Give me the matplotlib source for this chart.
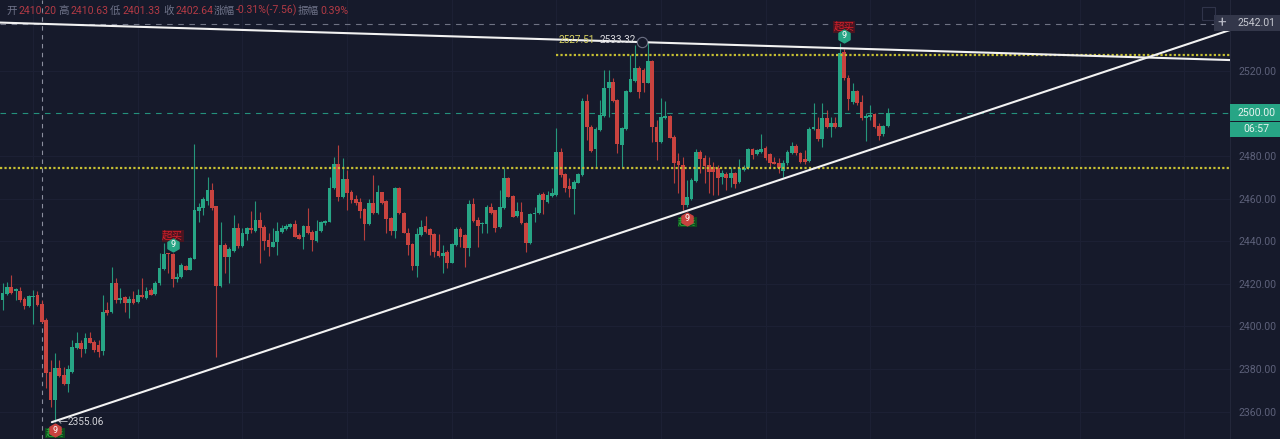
import numpy as np
import matplotlib
matplotlib.use("Agg")
import matplotlib.pyplot as plt
from matplotlib.patches import Rectangle

opens = [2412.4,2415.2,2418.5,2416.6,2416.6,2412.8,2409.5,2413.8,2414.7,2410.5,
2403.0,2378.6,2365.4,2380.4,2377.2,2372.9,2378.6,2389.8,2392.2,2389.3,
2394.5,2392.6,2391.2,2388.4,2407.7,2406.7,2420.3,2412.4,2413.8,2410.9,
2412.8,2411.4,2414.7,2413.3,2417.0,2415.2,2420.3,2426.9,2434.4,2433.9,
2422.2,2423.1,2428.3,2426.4,2431.6,2454.1,2455.5,2458.8,2464.0,2456.5,
2418.9,2438.2,2432.5,2435.4,2446.2,2437.7,2443.3,2446.2,2444.8,2449.9,
2446.6,2440.5,2437.2,2439.6,2444.3,2445.7,2446.6,2448.0,2442.9,2441.9,
2447.1,2444.3,2440.0,2444.8,2448.5,2449.0,2464.9,2476.2,2460.7,2469.2,
2463.1,2459.8,2458.4,2455.1,2448.0,2457.9,2453.2,2463.1,2458.8,2450.9,
2444.8,2464.9,2453.2,2443.8,2438.6,2428.3,2442.9,2447.1,2445.7,2443.3,
2435.4,2433.0,2434.9,2429.7,2438.2,2445.7,2442.9,2436.8,2457.4,2449.9,
2448.0,2448.0,2456.0,2454.6,2446.6,2455.5,2469.6,2461.2,2451.8,2453.7,
2448.5,2439.1,2452.7,2453.2,2462.1,2458.4,2461.2,2461.6,2481.8,2471.5,
2465.9,2464.5,2467.3,2471.0,2505.8,2493.6,2483.2,2492.2,2498.7,2511.9,
2514.7,2506.2,2485.1,2492.6,2510.0,2515.2,2521.3,2520.3,2514.2,2524.6,
2493.6,2486.5,2497.8,2498.7,2488.9,2477.6,2475.7,2456.9,2459.8,2468.2,
2481.8,2479.0,2475.7,2474.8,2474.3,2470.1,2471.5,2469.6,2472.0,2467.8,
2473.4,2474.3,2483.2,2480.9,2481.8,2483.7,2480.9,2477.1,2476.7,2472.9,
2476.7,2481.4,2484.7,2481.4,2478.5,2477.6,2492.6,2492.6,2487.9,2497.8,
2493.6,2495.5,2493.6,2528.8,2516.6,2505.3,2510.5,2505.3,2497.8,2498.3,
2499.7,2494.0,2490.3,2494.0]
highs = [2420.3,2420.8,2424.1,2418.0,2418.5,2413.8,2414.7,2417.0,2416.6,2412.4,
2403.9,2384.2,2387.5,2384.2,2380.9,2381.8,2393.6,2397.3,2393.6,2396.9,
2397.3,2393.6,2393.6,2414.7,2411.4,2427.8,2422.7,2418.0,2414.2,2414.2,
2416.6,2417.5,2422.7,2418.5,2418.0,2421.3,2434.4,2439.1,2434.4,2434.4,
2425.0,2429.7,2428.8,2432.5,2485.6,2457.9,2460.7,2470.1,2467.3,2456.5,
2449.0,2439.1,2437.2,2452.3,2448.5,2446.2,2446.6,2454.1,2458.8,2453.7,
2447.6,2443.8,2446.2,2449.0,2447.6,2448.0,2448.5,2449.9,2443.8,2447.6,
2455.5,2445.2,2449.9,2449.4,2449.9,2470.1,2479.5,2485.1,2479.0,2473.4,
2464.0,2461.6,2460.2,2455.5,2459.8,2471.0,2466.3,2463.1,2459.3,2451.3,
2465.4,2465.4,2453.7,2446.2,2439.1,2446.2,2449.9,2451.8,2446.2,2443.8,
2443.3,2438.2,2435.8,2439.1,2446.6,2446.6,2443.3,2459.3,2460.2,2451.3,
2449.0,2456.9,2457.9,2454.6,2464.0,2474.3,2470.1,2461.6,2458.4,2458.4,
2449.0,2453.2,2456.0,2462.6,2463.1,2463.5,2464.9,2493.1,2483.7,2472.0,
2469.6,2468.7,2472.0,2507.2,2509.1,2494.5,2493.6,2506.2,2520.3,2520.3,
2516.6,2506.7,2493.6,2510.9,2527.4,2532.1,2522.2,2521.3,2533.3,2525.0,
2496.9,2507.2,2505.8,2499.2,2489.8,2481.4,2479.5,2468.7,2469.6,2483.2,
2482.8,2480.4,2479.5,2477.1,2475.7,2473.4,2472.4,2474.8,2472.4,2478.5,
2475.7,2483.7,2483.7,2483.2,2490.3,2484.7,2481.4,2479.5,2479.0,2478.1,
2482.8,2486.5,2485.6,2481.8,2482.8,2493.6,2504.8,2498.3,2504.8,2501.6,
2498.3,2498.3,2533.0,2530.2,2518.0,2514.2,2510.9,2508.6,2500.1,2503.9,
2500.1,2495.5,2494.5,2502.5]
lows = [2407.7,2414.7,2415.2,2412.4,2411.4,2408.1,2409.1,2401.1,2409.5,2401.6,
2371.0,2362.1,2355.06,2376.2,2372.4,2369.2,2378.1,2389.3,2385.6,2387.5,
2392.2,2387.9,2385.6,2386.5,2405.3,2406.2,2410.9,2410.9,2406.7,2403.9,
2410.5,2410.9,2413.3,2412.8,2414.7,2414.7,2419.4,2426.4,2425.0,2418.5,
2420.8,2422.7,2426.4,2426.4,2431.6,2449.0,2452.3,2456.9,2454.6,2385.6,
2418.5,2425.0,2420.3,2434.9,2436.8,2437.2,2440.5,2443.8,2444.3,2429.7,
2435.8,2433.0,2437.2,2433.5,2443.8,2445.2,2446.2,2441.9,2441.0,2436.3,
2443.3,2435.4,2439.6,2444.3,2447.6,2449.0,2464.5,2458.8,2460.2,2454.6,
2457.9,2456.9,2450.9,2440.5,2447.6,2452.7,2452.7,2457.4,2443.8,2442.9,
2441.5,2452.7,2443.8,2433.5,2426.4,2423.1,2442.4,2443.8,2433.5,2432.5,
2432.5,2425.0,2427.4,2429.7,2437.7,2437.2,2427.8,2433.0,2449.0,2437.2,
2443.8,2443.8,2452.7,2444.3,2446.2,2455.1,2460.7,2451.3,2451.3,2448.0,
2434.9,2438.6,2449.0,2452.7,2452.7,2457.9,2460.7,2461.2,2470.1,2463.1,
2460.7,2452.7,2467.3,2470.6,2487.5,2481.8,2474.3,2491.7,2498.3,2498.3,
2505.3,2481.4,2474.8,2492.2,2510.0,2514.7,2507.2,2510.0,2514.2,2486.5,
2478.1,2486.1,2497.3,2488.4,2467.3,2462.6,2454.6,2456.0,2459.3,2467.8,
2472.0,2467.3,2462.6,2461.6,2461.6,2466.8,2464.0,2465.4,2464.9,2467.3,
2472.9,2473.9,2478.5,2480.4,2481.4,2478.1,2474.8,2476.2,2472.0,2470.1,
2475.7,2480.9,2480.4,2476.7,2476.2,2477.1,2492.2,2487.0,2484.2,2493.1,
2488.9,2493.1,2493.6,2515.6,2501.6,2504.4,2503.9,2496.9,2487.0,2496.9,
2493.1,2487.5,2489.3,2493.6]
closes = [2415.6,2418.5,2415.6,2417.5,2412.4,2409.5,2414.2,2414.2,2410.0,2402.0,
2378.1,2365.4,2380.4,2376.7,2372.9,2380.0,2390.3,2392.2,2389.3,2394.5,
2392.2,2388.9,2387.9,2406.7,2406.2,2420.3,2412.4,2413.3,2410.9,2412.8,
2410.9,2414.7,2413.8,2416.6,2414.7,2420.3,2427.4,2433.9,2433.9,2422.2,
2423.1,2428.8,2426.4,2432.1,2454.6,2456.0,2459.8,2464.0,2455.5,2418.9,
2438.2,2432.5,2436.3,2446.2,2437.7,2443.8,2446.2,2445.2,2449.9,2446.2,
2440.0,2437.2,2439.6,2444.8,2446.2,2447.1,2448.0,2441.9,2441.0,2447.1,
2443.8,2440.5,2444.8,2449.0,2449.4,2464.9,2476.2,2460.7,2469.2,2462.6,
2459.3,2457.9,2454.1,2448.0,2457.9,2453.2,2463.1,2457.9,2450.4,2444.8,
2464.9,2453.2,2443.8,2438.2,2428.3,2443.3,2446.6,2444.3,2442.9,2434.9,
2433.0,2434.4,2429.7,2438.6,2445.7,2441.9,2436.8,2457.4,2449.4,2447.1,
2448.5,2456.0,2453.2,2446.2,2456.0,2469.6,2460.7,2451.3,2454.1,2448.5,
2439.1,2452.7,2453.2,2461.6,2459.3,2461.6,2462.6,2481.8,2471.0,2464.9,
2464.5,2467.8,2471.5,2505.8,2493.6,2482.3,2492.6,2499.2,2511.9,2514.7,
2505.8,2485.6,2493.1,2510.5,2516.1,2521.3,2510.0,2514.2,2524.6,2493.6,
2486.5,2498.3,2498.7,2488.4,2476.7,2475.7,2456.9,2460.7,2468.7,2481.8,
2478.5,2475.3,2472.4,2472.4,2469.6,2472.0,2469.6,2472.0,2466.8,2474.3,
2474.3,2483.2,2480.4,2482.8,2483.2,2479.0,2476.7,2476.2,2474.3,2476.7,
2481.8,2484.7,2481.4,2477.1,2477.1,2492.6,2493.6,2487.9,2497.8,2493.6,
2495.5,2493.6,2528.3,2516.6,2506.7,2510.5,2504.8,2497.8,2498.7,2499.2,
2493.6,2489.3,2494.0,2500.0]

price_ticks = [2360, 2380, 2400, 2420, 2440, 2460, 2480, 2520]
grid_candles = [7, 31, 55, 79, 103, 127, 151, 175, 199, 223, 247, 271]
support_price = 2474.1
resistance_price = 2527.51
last_price = 2500.00
cross_price = 2542.01
cross_candle = 9
falling_x = [-0.6, 281.5]
falling_p = [2542.6, 2525.0]
rising_x = [11.3, 281.5]
rising_p = [2355.0, 2539.1]
sell_idx = [39, 193]
sell_p = [2438.2, 2536.3]
buy_idx = [12, 157]
buy_p = [2351.2, 2450.4]
header_items = [("开", 6, "l"), ("2410.20", 18, "v"), ("高", 58, "l"), ("2410.63", 70, "v"),
                ("低", 110, "l"), ("2401.33", 122, "v"), ("收", 163, "l"), ("2402.64", 175, "v"),
                ("涨幅", 214, "l"), ("-0.31%(-7.56)", 236, "v"), ("振幅", 298, "l"), ("0.39%", 320, "v")]

BG = "#161a2b"
GREEN = "#27a585"
RED = "#c9433f"
FONT = ["Roboto", "Noto Sans CJK SC", "DejaVu Sans"]
plt.rcParams["font.family"] = FONT

W, H = 1280, 439
fig = plt.figure(figsize=((W + 0.01) / 100, (H + 0.01) / 100), dpi=100, facecolor=BG)
ax = fig.add_axes([0, 0, 1230 / W, 1], facecolor=BG)

step_px = 4.36
first_px = 2.6
ax.set_xlim(-first_px / step_px, (1230 - first_px) / step_px)
ax.set_ylim(2553.2 - 0.4695 * H, 2553.2)


def fx(p):
    return p / W


def fy(p):
    return 1 - p / H


idx = np.arange(len(opens))
o, h, l, c = map(np.asarray, (opens, highs, lows, closes))
up = c >= o
cols = np.where(up, GREEN, RED)

ax.set_xticks(grid_candles)
ax.set_yticks(price_ticks)
ax.grid(True, color="#1c2034", lw=0.8, zorder=0)
ax.set_axisbelow(True)
ax.xaxis.set_tick_params(length=0, labelbottom=False)
ax.yaxis.tick_right()
ax.tick_params(axis="y", length=0, pad=6, labelcolor="#5c6079", labelsize=7.6)
ax.set_yticklabels([f"{t:.2f}" for t in price_ticks])
for name, s in ax.spines.items():
    s.set_visible(name == "right")
    s.set_color("#23273a")
    s.set_linewidth(0.8)

ax.axvline(cross_candle, color="#8b8e9e", lw=0.8, ls=(0, (4, 4)), zorder=1)
ax.axhline(cross_price, color="#6e7283", lw=0.8, ls=(0, (5, 5)), zorder=1)
ax.axhline(last_price, color="#24907c", lw=0.8, ls=(0, (5, 5)), zorder=1)

ax.vlines(idx, l, h, colors=cols, lw=0.8, alpha=0.9, zorder=2)
ax.bar(idx, np.maximum(np.abs(c - o), 0.5), bottom=np.minimum(o, c), width=0.86,
       color=cols, linewidth=0, zorder=3)

ax.axhline(support_price, color="#c6bf32", lw=1.6, ls=(0, (1, 1)), zorder=4)
ax.hlines(resistance_price, 127, falling_x[1], color="#c6bf32", lw=1.6, ls=(0, (1, 1)), zorder=4)
ax.plot(falling_x, falling_p, color="#f2f2f2", lw=1.5, zorder=5, solid_capstyle="round")
ax.plot(rising_x, rising_p, color="#f2f2f2", lw=1.5, zorder=5, solid_capstyle="round")

ax.scatter([146.7], [2533.32], s=55, facecolor=BG, edgecolor="#6c7083", lw=0.8, zorder=6)

for i, p in zip(sell_idx, sell_p):
    ax.text(i, p + 4.2, "超买", color="#d3202a", fontsize=7.6, ha="center", va="center", zorder=6,
            bbox=dict(boxstyle="square,pad=0.05", fc="#4a1420", ec="none"))
    ax.scatter([i], [p], marker="h", s=85, color=GREEN, zorder=7)
    ax.text(i, p, "9", color="white", fontsize=6.5, ha="center", va="center", zorder=8)
for i, p in zip(buy_idx, buy_p):
    ax.text(i, p - 1.4, "超卖", color="#2fae3f", fontsize=6.6, ha="center", va="center", zorder=6,
            bbox=dict(boxstyle="square,pad=0.05", fc="#0d4a1e", ec="none"))
    ax.scatter([i], [p], marker="h", s=85, color=RED, zorder=7)
    ax.text(i, p, "9", color="white", fontsize=6.5, ha="center", va="center", zorder=8)

ax.text(12.6, 2355.06, "←", color="#d2d3d8", fontsize=7.2, va="center", ha="left", zorder=8)
ax.text(14.8, 2355.06, "2355.06", color="#d2d3d8", fontsize=7.2, va="center", ha="left", zorder=8)
ax.text(127.4, 2534.2, "2527.51", color="#d8d262", fontsize=7.2, va="center", ha="left", zorder=8)
ax.text(137, 2534.2, "2533.32", color="#d8d8dc", fontsize=7.2, va="center", ha="left", zorder=8)

# Header line
for txt, px, kind in header_items:
    fig.text(fx(px), fy(10.5), txt, color="#6f7389" if kind == "l" else "#b23a45",
             fontsize=7.6, ha="left", va="center")

# Right-hand price boxes
fig.add_artist(Rectangle((fx(1214), fy(31)), 66 / W, 15.5 / H, transform=fig.transFigure,
                         fc="#33374a", ec="none", zorder=5))
fig.text(fx(1222), fy(23), "+", color="#b9bbc6", fontsize=11, ha="center", va="center", zorder=6)
fig.text(fx(1256), fy(23), f"{cross_price:.2f}", color="#c6c8d0", fontsize=7.6, ha="center", va="center", zorder=6)
fig.add_artist(Rectangle((fx(1230), fy(120.7)), 50 / W, 16.7 / H, transform=fig.transFigure,
                         fc=GREEN, ec="none", zorder=5))
fig.text(fx(1256), fy(112.7), f"{last_price:.2f}", color="#e6f3ef", fontsize=7.6, ha="center", va="center", zorder=6)
fig.add_artist(Rectangle((fx(1230), fy(137)), 50 / W, 15.3 / H, transform=fig.transFigure,
                         fc=GREEN, ec="none", zorder=5))
fig.text(fx(1256), fy(129.2), "06:57", color="#e6f3ef", fontsize=7.6, ha="center", va="center", zorder=6)

# Fullscreen icon
fig.add_artist(Rectangle((fx(1202), fy(20)), 13 / W, 13 / H, transform=fig.transFigure,
                         fc="none", ec="#30344a", lw=0.8, zorder=5))

fig.savefig("out.png", dpi=100, facecolor=BG)
